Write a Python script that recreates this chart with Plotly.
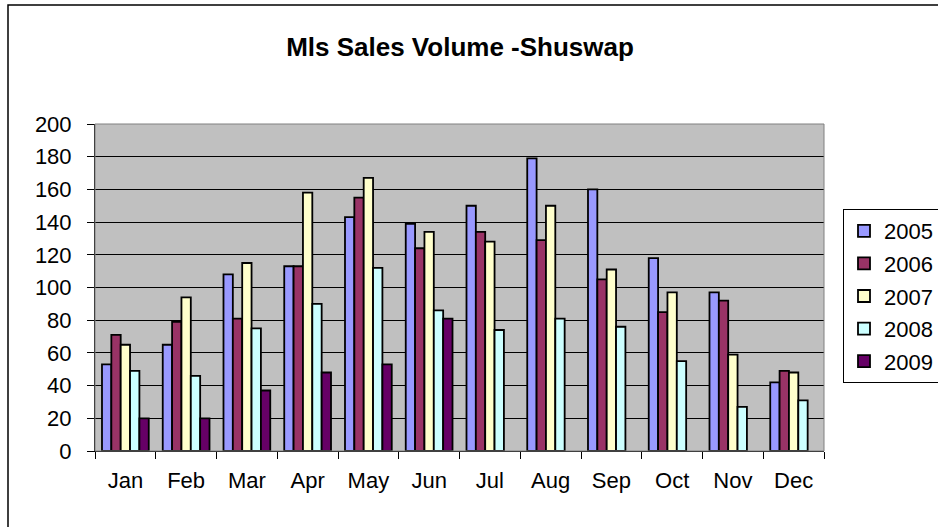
import plotly.graph_objects as go

months = ["Jan", "Feb", "Mar", "Apr", "May", "Jun", "Jul", "Aug", "Sep", "Oct", "Nov", "Dec"]
years = ["2005", "2006", "2007", "2008", "2009"]
v2005 = [53, 65, 108, 113, 143, 139, 150, 179, 160, 118, 97, 42]
v2006 = [71, 79, 81, 113, 155, 124, 134, 129, 105, 85, 92, 49]
v2007 = [65, 94, 115, 158, 167, 134, 128, 150, 111, 97, 59, 48]
v2008 = [49, 46, 75, 90, 112, 86, 74, 81, 76, 55, 27, 31]
v2009 = [20, 20, 37, 48, 53, 81, None, None, None, None, None, None]
series = [v2005, v2006, v2007, v2008, v2009]
colors = ["#9999FF", "#993366", "#FFFFCC", "#CCFFFF", "#660066"]

fig = go.Figure()
for name, vals, col in zip(years, series, colors):
    fig.add_trace(go.Bar(x=months, y=vals, name=name, legendgroup=name,
                         marker=dict(color=col, line=dict(color="black", width=1.8))))

L, R, T, B = 95, 114, 124, 76
W, H = 938, 527
pw, ph = W - L - R, H - T - B

def px(x):
    return (x - L) / pw

def py(y):
    return (H - B - y) / ph

fig.update_layout(
    width=W, height=H,
    margin=dict(l=L, r=R, t=T, b=B, autoexpand=False),
    paper_bgcolor="white", plot_bgcolor="#C0C0C0",
    font=dict(family="Liberation Sans, Arial, sans-serif", size=22, color="black"),
    title=dict(text="<b>Mls Sales Volume -Shuswap</b>", x=px(460), xref="paper", xanchor="center",
               y=1 - 47 / H, yanchor="middle", font=dict(size=26)),
    barmode="group", bargap=0.23, bargroupgap=0,
    showlegend=True,
    legend=dict(x=px(843), y=py(209), xanchor="left", yanchor="top",
                bordercolor="black", borderwidth=1, bgcolor="white",
                tracegroupgap=1, font=dict(size=22)),
    xaxis=dict(type="category", tickson="boundaries", ticks="outside", ticklen=7,
               tickcolor="black", showline=True, linecolor="black", linewidth=1,
               showgrid=False, mirror=False, ticklabelstandoff=10),
    yaxis=dict(range=[0, 200], dtick=20, ticks="outside", ticklen=7, tickcolor="black",
               showline=True, linecolor="black", linewidth=1,
               showgrid=True, gridcolor="black", gridwidth=1, zeroline=False,
               ticklabelstandoff=11),
    shapes=[
        dict(type="rect", xref="paper", yref="paper", x0=0, x1=1, y0=0, y1=1,
             line=dict(color="#808080", width=1), fillcolor="rgba(0,0,0,0)", layer="above"),
        dict(type="rect", xref="paper", yref="paper", x0=px(8), x1=px(960), y0=py(5), y1=py(560),
             line=dict(color="black", width=1.5), fillcolor="rgba(0,0,0,0)"),
    ],
)

fig.write_html("out.html", config={"displayModeBar": False},
               post_script="document.body.style.margin='0';document.body.style.overflow='hidden';")
